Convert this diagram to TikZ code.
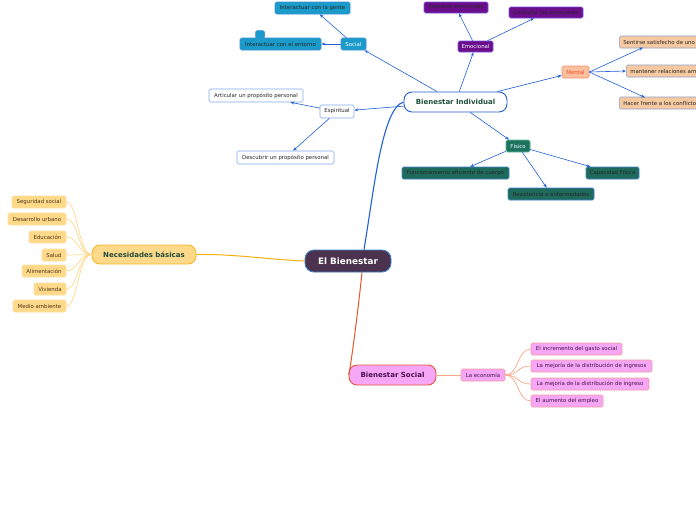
\documentclass[tikz,border=0pt]{standalone}
\usepackage{fontspec}
\setmainfont{DejaVu Sans}
\usetikzlibrary{arrows.meta}
\definecolor{arrc}{HTML}{2060D8}
\definecolor{socf}{HTML}{1A9BC9}
\definecolor{socb}{HTML}{3C8FD8}
\definecolor{emof}{HTML}{6B0E8C}
\definecolor{emob}{HTML}{7A50E0}
\definecolor{menf}{HTML}{FBC0A0}
\definecolor{menb}{HTML}{F49070}
\definecolor{ment}{HTML}{F05020}
\definecolor{menlf}{HTML}{F7C9A0}
\definecolor{menlb}{HTML}{90A0C8}
\definecolor{espb}{HTML}{80A8F0}
\definecolor{fisf}{HTML}{1E735F}
\definecolor{fisb}{HTML}{5FB8A0}
\definecolor{fislf}{HTML}{1E6B5C}
\definecolor{fislb}{HTML}{4080D0}
\definecolor{necf}{HTML}{FFD98A}
\definecolor{necb}{HTML}{F5B829}
\definecolor{neclb}{HTML}{FCE0A0}
\definecolor{darkg}{HTML}{1D4D3A}
\definecolor{socpf}{HTML}{F5A6F5}
\definecolor{socpb}{HTML}{E8553A}
\definecolor{socplb}{HTML}{F4A0A0}
\definecolor{socpt}{HTML}{4A1050}
\definecolor{bienf}{HTML}{4B3350}
\definecolor{bienb}{HTML}{3D7FC4}
\definecolor{indb}{HTML}{1F5FCC}
\definecolor{yline}{HTML}{FFD98A}
\definecolor{pline}{HTML}{F8A888}
\definecolor{oline}{HTML}{E8552A}
\definecolor{yeline}{HTML}{F5B010}
\definecolor{leaft}{HTML}{4A3418}
\begin{document}
\begin{tikzpicture}[x=1pt,y=-1pt,
  leaf/.style={draw, rounded corners=1.5pt, line width=0.6pt, inner sep=0pt,
    font=\fontsize{5.4}{6.5}\selectfont, minimum height=12pt},
  mainn/.style={draw, rounded corners=8pt, line width=0.9pt, inner sep=0pt,
    font=\fontsize{7}{8.5}\selectfont\bfseries, minimum height=20pt},
  arr/.style={draw=arrc, line width=0.6pt, -{Stealth[length=4pt,width=3pt]}},
  yfan/.style={draw=yline, line width=0.7pt},
  pfan/.style={draw=pline, line width=0.7pt}
]
\useasboundingbox (0,0) rectangle (696,520);
\clip (0,0) rectangle (696,520);
\fill[white] (0,0) rectangle (696,520);

% central
\node[mainn, fill=bienf, draw=bienb, text=white, minimum width=86pt, minimum height=22pt,
  rounded corners=9pt, font=\fontsize{8.8}{10}\selectfont\bfseries] (bien) at (348,261) {El Bienestar};
\node[mainn, fill=white, draw=indb, text=darkg, minimum width=103pt] (indiv) at (455.5,102) {Bienestar Individual};
\node[mainn, fill=socpf, draw=socpb, text=socpt, minimum width=87pt] (bsoc) at (392.5,375) {Bienestar Social};
\node[mainn, fill=necf, draw=necb, text=darkg, minimum width=104pt, minimum height=19pt] (nec) at (144,254.5) {Necesidades básicas};

% main connectors
\draw[draw=arrc, line width=1.1pt] ([xshift=16pt]bien.north) .. controls (374,190) and (382,108) .. (indiv.west);
\draw[draw=oline, line width=1pt] ([xshift=14pt]bien.south) .. controls (357,320) and (350,372) .. (bsoc.west);
\draw[draw=yeline, line width=1pt] (bien.west) .. controls (262,259) and (236,254) .. (nec.east);

% Social group
\node[leaf, fill=socf, draw=socb, text=white, minimum width=25pt] (soc) at (353.5,44) {Social};
\node[leaf, fill=socf, draw=socb, text=black!85, minimum width=75pt] (gente) at (312.5,8) {Interactuar con la gente};
\node[leaf, fill=socf, draw=socb, text=black!85, minimum width=81pt] (entorno) at (280.5,44) {Interactuar con el entorno};
\node[draw=socb, fill=socf, rounded corners=1.5pt, line width=0.5pt, minimum width=9pt, minimum height=8pt, inner sep=0pt] (tab) at (260,34.5) {};
\draw[arr] (indiv) -- (soc);
\draw[arr] (soc) -- (gente);
\draw[arr] (soc) -- (entorno);

% Emocional group
\node[leaf, fill=emof, draw=emob, text=white, minimum width=35pt, minimum height=11pt] (emo) at (475.5,46.5) {Emocional};
\node[leaf, fill=emof, draw=emob, text=black!85, minimum width=64pt, minimum height=11pt] (expr) at (456,7.5) {Expresar emociones};
\node[leaf, fill=emof, draw=emob, text=black!85, minimum width=74pt, minimum height=11pt] (contr) at (546,12.5) {Controlar las emociones};
\draw[arr] (indiv) -- (emo);
\draw[arr] (emo) -- (expr);
\draw[arr] (emo) -- (contr);

% Mental group
\node[leaf, fill=menf, draw=menb, text=ment, minimum width=27pt] (men) at (575.5,72) {Mental};
\node[leaf, fill=menlf, draw=menlb, text=black!85, anchor=west, inner xsep=4pt] (sent) at (619,42) {Sentirse satisfecho de uno mismo};
\node[leaf, fill=menlf, draw=menlb, text=black!85, anchor=west, inner xsep=4pt] (mant) at (626,71) {mantener relaciones armoniosas};
\node[leaf, fill=menlf, draw=menlb, text=black!85, anchor=west, inner xsep=4pt] (hacer) at (619,103) {Hacer frente a los conflictos};
\draw[arr] (indiv) -- (men);
\draw[arr] (men.east) -- (643,47.5);
\draw[arr] (men.east) -- (mant.west);
\draw[arr] (men.east) -- (645,97.5);

% Espiritual group
\node[leaf, fill=white, draw=espb, text=black!85, minimum width=34pt, minimum height=13pt] (esp) at (337,111.5) {Espiritual};
\node[leaf, fill=white, draw=espb, text=black!85, minimum width=94pt, minimum height=13pt] (artic) at (256,95.5) {Articular un propósito personal};
\node[leaf, fill=white, draw=espb, text=black!85, minimum width=97pt, minimum height=13pt] (desc) at (285.5,157.5) {Descubrir un propósito personal};
\draw[arr] (indiv) -- (esp);
\draw[arr] (esp) -- (artic);
\draw[arr] (esp) -- (desc);

% Fisico group
\node[leaf, fill=fisf, draw=fisb, text=white, minimum width=24pt] (fis) at (518,146) {Físico};
\node[leaf, fill=fislf, draw=fislb, text=black!85, minimum width=107pt] (func) at (455.5,173) {Funcionamiento eficiente de cuerpo};
\node[leaf, fill=fislf, draw=fislb, text=black!85, minimum width=86pt] (resis) at (551,194) {Resistencia a enfermedades};
\node[leaf, fill=fislf, draw=fislb, text=black!85, minimum width=53pt] (capac) at (612.5,173) {Capacidad Física};
\draw[arr] (indiv) -- (fis);
\draw[arr] (fis) -- (func);
\draw[arr] (fis) -- (resis);
\draw[arr] (fis) -- (capac);

% Necesidades group
\foreach \nm/\cx/\cy/\w/\t in {n1/39/202/54/Seguridad social, n2/37/219/58/Desarrollo urbano,
  n3/47.5/237/37/Educación, n4/54/255/24/Salud, n5/44/271/44/Alimentación,
  n6/50/289/32/Vivienda, n7/39.5/306/53/Medio ambiente}{
  \node[leaf, fill=necf, draw=neclb, text=leaft, minimum width=\w pt] (\nm) at (\cx,\cy) {\t};
  \draw[yfan] (nec.west) .. controls (78,254.5) and (78,\cy) .. (\nm.east);
}

% Social economy group
\node[leaf, fill=socpf, draw=socplb, text=socpt, minimum width=44pt] (eco) at (483,375) {La economía};
\draw[pfan] (bsoc.east) -- (eco.west);
\foreach \nm/\cx/\cy/\w/\t in {e1/576.5/349/91/El incremento del gasto social,
  e2/591.5/366/121/La mejoría de la distribución de ingresos,
  e3/590/384/118/La mejoría de la distribución de ingreso,
  e4/567/401/72/El aumento del empleo}{
  \node[leaf, fill=socpf, draw=socplb, text=socpt, minimum width=\w pt] (\nm) at (\cx,\cy) {\t};
  \draw[pfan] (eco.east) .. controls (519,375) and (517,\cy) .. (\nm.west);
}
\end{tikzpicture}
\end{document}
